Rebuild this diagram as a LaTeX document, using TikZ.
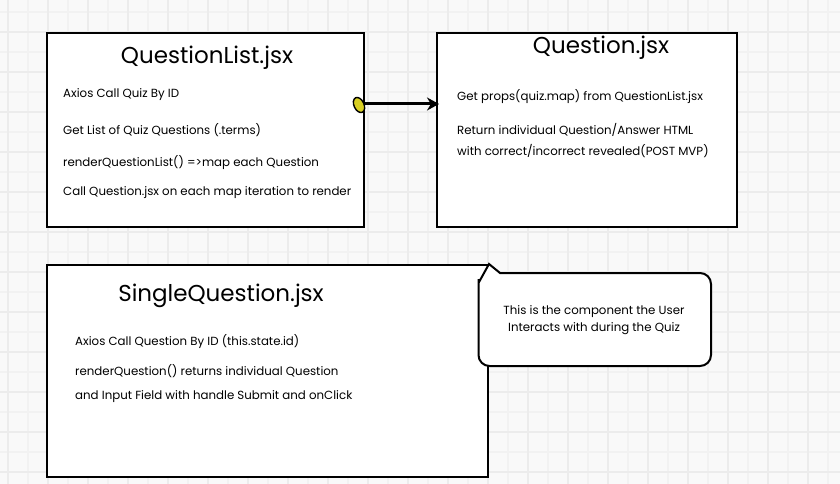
\documentclass[tikz,border=0pt]{standalone}
\usepackage{fontspec}
\setmainfont{Poppins}
\usetikzlibrary{arrows.meta,shapes.geometric}
\definecolor{bg}{HTML}{F9F9F9}
\definecolor{gminor}{HTML}{F2F2F2}
\definecolor{gmajor}{HTML}{ECECEC}
\definecolor{dot}{HTML}{D8CF22}
\tikzset{
  card/.style={draw=black, line width=2pt, fill=white, inner sep=0pt},
  ttl/.style={font=\fontsize{23}{26}\selectfont, inner sep=0pt},
  txt/.style={font=\fontsize{11.8}{14}\selectfont, anchor=west, inner sep=0pt},
  note/.style={font=\fontsize{11.8}{17}\selectfont, align=center, inner sep=0pt},
  link/.style={line width=3pt, -{Stealth[length=12pt,width=13pt]}},
}
\begin{document}
\begin{tikzpicture}[x=1pt,y=-1pt]
\fill[bg] (0,0) rectangle (840,484);
\useasboundingbox (0,0) rectangle (840,484);
\foreach \x in {8,28,...,828} \draw[gminor, line width=1.2pt] (\x,0) -- (\x,484);
\foreach \y in {12,32,...,472} \draw[gminor, line width=1.2pt] (0,\y) -- (840,\y);
\foreach \x in {8,48,...,808} \draw[gmajor, line width=1.5pt] (\x,0) -- (\x,484);
\foreach \y in {32,72,...,472} \draw[gmajor, line width=1.5pt] (0,\y) -- (840,\y);

% boxes
\node[card, minimum width=317pt, minimum height=194pt] (b1) at (205.5,130) {};
\node[card, minimum width=300pt, minimum height=194pt] (b2) at (587,130) {};
\node[card, minimum width=441pt, minimum height=212pt] (b3) at (267.5,371) {};

% box 1 text
\node[ttl] (t1) at (207,58) {QuestionList.jsx};
\node[txt] (l11) at (63,95) {Axios Call Quiz By ID};
\node[txt] (l12) at (63,130) {Get List of Quiz Questions (.terms)};
\node[txt] (l13) at (63,163) {renderQuestionList() =>map each Question};
\node[txt] (l14) at (63,193) {Call Question.jsx on each map iteration to render};

% box 2 text
\node[ttl] (t2) at (601,48) {Question.jsx};
\node[txt] (l21) at (457,97) {Get props(quiz.map) from QuestionList.jsx};
\node[txt] (l22) at (457,130) {Return individual Question/Answer HTML};
\node[txt] (l23) at (457,151) {with correct/incorrect revealed(POST MVP)};

% box 3 text
\node[ttl] (t3) at (221,296) {SingleQuestion.jsx};
\node[txt] (l31) at (75,342) {Axios Call Question By ID (this.state.id)};
\node[txt] (l32) at (75,371) {renderQuestion() returns individual Question};
\node[txt] (l33) at (75,397) {and Input Field with handle Submit and onClick};

% connector
\coordinate (ay) at (0,104);
\coordinate (p1) at (b1.east |- ay);
\coordinate (p2) at (b2.west |- ay);
\draw[link] (p1) -- ([xshift=3pt]p2);
\node[draw=black, line width=1.4pt, fill=dot, ellipse, minimum width=10pt, minimum height=16pt, inner sep=0pt, rotate=25] (knob) at ([xshift=-6pt,yshift=-1pt]p1) {};

% callout
\draw[line width=2pt, fill=white, rounded corners=11pt]
  (478.5,290) [sharp corners]-- (478.5,283) -- (b3.north east) -- (500,273)
  [rounded corners=11pt]-- (711,273) -- (711,366) -- (478.5,366) -- cycle;
\node[note] (c1) at (594,320.5) {This is the component the User\\Interacts with during the Quiz};
\end{tikzpicture}
\end{document}
